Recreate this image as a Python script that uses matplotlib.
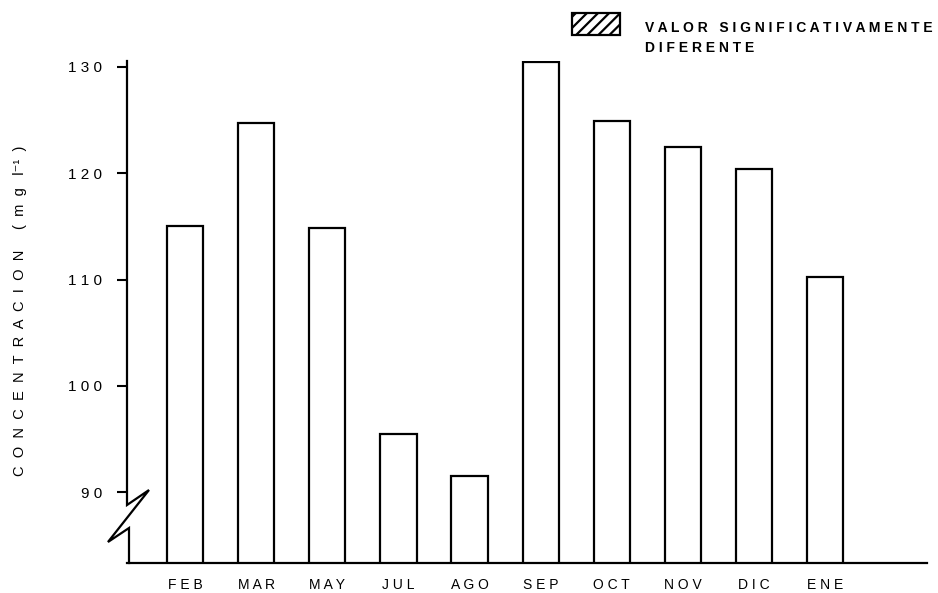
import matplotlib
matplotlib.use("Agg")
import matplotlib.pyplot as plt
from matplotlib.patches import Rectangle
from matplotlib.lines import Line2D

# monthly concentration (mg l-1)
months = ["FEB", "MAR", "MAY", "JUL", "AGO", "SEP", "OCT", "NOV", "DIC", "ENE"]
conc = [115.0, 124.7, 114.8, 95.5, 91.5, 130.4, 124.9, 122.5, 120.4, 110.2]
yticks = [90, 100, 110, 120, 130]

plt.rcParams["font.family"] = ["Liberation Sans", "DejaVu Sans"]
plt.rcParams["hatch.linewidth"] = 1.6

def spaced(s, gap=" "):
    # the original lettering is typewriter-spaced
    return gap.join(s)

W, H = 938, 593
fig = plt.figure(figsize=(W / 100, H / 100), dpi=100)
# axes box in pixels: x 127..927, y 61..563
ax = fig.add_axes([127 / W, 1 - 563 / H, 800 / W, 502 / H])

x = list(range(len(months)))
ax.bar(x, conc, width=0.51, bottom=0, facecolor="white", edgecolor="black",
       linewidth=1.6, zorder=2)

ax.set_xlim(-0.816, 10.43)
ax.set_ylim(83.36, 130.54)

for s in ["top", "right", "left"]:
    ax.spines[s].set_visible(False)
ax.spines["bottom"].set_linewidth(1.6)

ax.set_xticks(x)
ax.set_xticklabels([spaced(m) for m in months], fontsize=10)
ax.tick_params(axis="x", length=0, pad=11)
ax.set_yticks(yticks)
ax.set_yticklabels([spaced(str(v)) for v in yticks], fontsize=11)
ax.tick_params(axis="y", length=7, width=1.5, pad=11, direction="out")

# y axis line with the lightning-style break near the bottom
brk_x = [0, 0, 0.0275, -0.0238, 0.0025, 0.0025]
brk_y = [1, 0.1155, 0.1454, 0.0418, 0.0697, 0]
ax.add_line(Line2D(brk_x, brk_y, transform=ax.transAxes, color="black",
                   linewidth=1.6, clip_on=False, solid_joinstyle="miter"))

fig.text(20 / W, 1 - 311 / H,
         spaced("CONCENTRACION", "  ") + "     (  m  g   l⁻¹  )",
         rotation=90, ha="center", va="center", fontsize=10.5)

# legend box for significantly different values
fig.patches.append(Rectangle((572 / W, 1 - 35 / H), 48 / W, 22 / H,
                             transform=fig.transFigure, facecolor="white",
                             edgecolor="black", linewidth=1.6, hatch="///"))
fig.text(645 / W, 1 - 28 / H, spaced("VALOR") + "   " + spaced("SIGNIFICATIVAMENTE"),
         ha="left", va="center", fontsize=10, fontweight="bold")
fig.text(645 / W, 1 - 48 / H, spaced("DIFERENTE"),
         ha="left", va="center", fontsize=10, fontweight="bold")

fig.savefig("out.png", dpi=100)
